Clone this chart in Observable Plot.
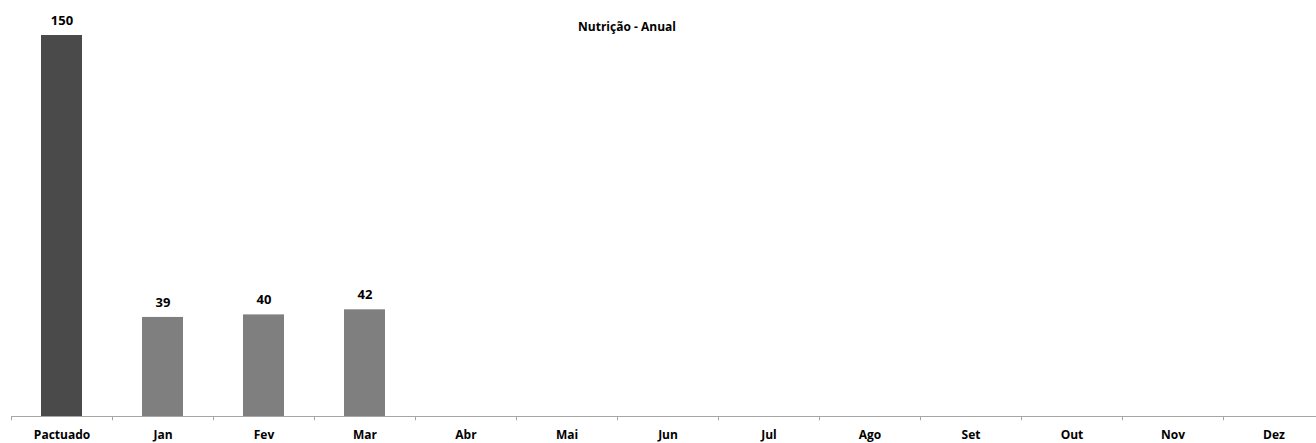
<!DOCTYPE html>
<html>
<head>
<meta charset="utf-8">
<script src="https://cdn.jsdelivr.net/npm/d3@7"></script>
<script src="https://cdn.jsdelivr.net/npm/@observablehq/plot@0.6"></script>
<style>
  html, body { margin: 0; padding: 0; background: #fff; }
  svg { display: block; }
</style>
</head>
<body>
<div id="chart"></div>
<script>
const title = "Nutrição - Anual";
const categories = ["Pactuado", "Jan", "Fev", "Mar", "Abr", "Mai", "Jun", "Jul", "Ago", "Set", "Out", "Nov", "Dez"];
const values = [150, 39, 40, 42, null, null, null, null, null, null, null, null, null];
const barColors = ["#4a4a4a", "#7f7f7f"];

const data = categories.map((c, i) => ({cat: c, value: values[i], kind: i === 0 ? "pactuado" : "mes"}));
const shown = data.filter(d => d.value != null);

const W = 1316, H = 443, mL = 11, mR = 0, mT = 35, mB = 27;
const step = 101;
const xRange = [mL, mL + step * categories.length];
const font = "'Open Sans', 'Liberation Sans', sans-serif";

const chart = Plot.plot({
  width: W,
  height: H,
  marginLeft: mL,
  marginRight: mR,
  marginTop: mT,
  marginBottom: mB,
  style: {fontFamily: font, background: "#fff"},
  x: {domain: categories, range: xRange, paddingInner: 0.594, paddingOuter: 0.297, label: null},
  y: {domain: [0, 150], axis: null},
  color: {domain: ["pactuado", "mes"], range: barColors},
  marks: [
    Plot.barY(shown, {x: "cat", y: "value", fill: "kind"}),
    Plot.text(shown, {x: "cat", y: "value", text: d => String(d.value), dy: -15,
      fontWeight: "bold", fontSize: 13, fill: "#000"}),
    Plot.ruleY([0], {stroke: "#a6a6a6", strokeWidth: 1.2}),
    Plot.ruleX(categories, {x: d => d, dx: -step / 2, y1: 0, y2: -1.7, stroke: "#a6a6a6"}),
    Plot.axisX({tickSize: 0, tickPadding: 14, fontWeight: "bold", fontSize: 12, fill: "#000", label: null}),
    Plot.text([title], {frameAnchor: "top", dx: -37, dy: -13, fontWeight: "bold", fontSize: 12, fill: "#000"})
  ]
});
document.getElementById("chart").appendChild(chart);
</script>
</body>
</html>
